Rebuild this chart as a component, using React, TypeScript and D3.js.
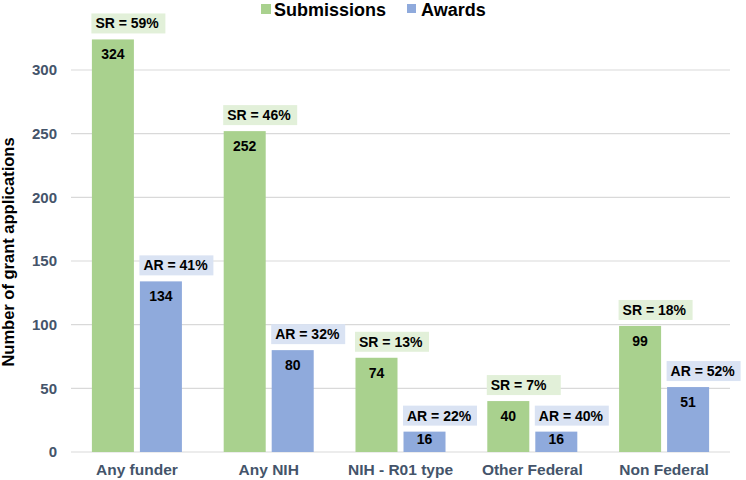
import React from "react";
import { scaleLinear, scaleBand, range } from "d3";

const categories = ["Any funder", "Any NIH", "NIH - R01 type", "Other Federal", "Non Federal"];
const submissions = [324, 252, 74, 40, 99];
const awards = [134, 80, 16, 16, 51];
const submissionRates = ["SR = 59%", "SR = 46%", "SR = 13%", "SR = 7%", "SR = 18%"];
const awardRates = ["AR = 41%", "AR = 32%", "AR = 22%", "AR = 40%", "AR = 52%"];
const series = ["Submissions", "Awards"];
const yTicks = range(0, 301, 50);

const W = 746;
const H = 480;
const font = "'Liberation Sans', Arial, sans-serif";
const green = "#A9D18E";
const blue = "#8FAADC";
const greenBox = "#E2F0D9";
const blueBox = "#DAE3F3";
const slate = "#44546A";

const App = () => {
  const left = 71;
  const right = 730;
  const y0 = 452;

  const yScale = scaleLinear().domain([0, 300]).range([y0, 70]);

  const xScale = scaleBand()
    .domain(categories)
    .range([left, right])
    .paddingInner(0.317)
    .paddingOuter(0.1585);

  const inner = scaleBand()
    .domain(series)
    .range([0, xScale.bandwidth()])
    .paddingInner(0.125);

  const gridlines = yTicks.map((t) => (
    <g key={t}>
      <line x1={left} x2={right} y1={yScale(t)} y2={yScale(t)} stroke="#D9D9D9" strokeWidth={1.2} />
      <text x={57} y={yScale(t)} dy="0.35em" textAnchor="end" fill={slate} fontWeight="bold" fontSize={15}>
        {t}
      </text>
    </g>
  ));

  const groups = categories.map((c, i) => {
    const vals = [submissions[i], awards[i]];
    const rates = [submissionRates[i], awardRates[i]];
    return (
      <g key={c}>
        {series.map((s, j) => {
          const x = (xScale(c) as number) + (inner(s) as number);
          const top = yScale(vals[j]);
          const bw = inner.bandwidth();
          return (
            <g key={s}>
              <rect x={x} y={top} width={bw} height={y0 - top} fill={j === 0 ? green : blue} />
              <text
                x={x + bw / 2}
                y={Math.min(top + 20, y0 - 8)}
                textAnchor="middle"
                fontWeight="bold"
                fontSize={14}
                fill="#000"
              >
                {vals[j]}
              </text>
              <rect x={x - 0.5} y={top - 26} width={74} height={20} fill={j === 0 ? greenBox : blueBox} />
              <text x={x + 3.5} y={top - 11} fontWeight="bold" fontSize={14} fill="#000">
                {rates[j]}
              </text>
            </g>
          );
        })}
        <text
          x={(xScale(c) as number) + xScale.bandwidth() / 2}
          y={475}
          textAnchor="middle"
          fill={slate}
          fontWeight="bold"
          fontSize={15.5}
        >
          {c}
        </text>
      </g>
    );
  });

  return (
    <svg
      width={W}
      height={H}
      viewBox={`0 0 ${W} ${H}`}
      style={{ position: "absolute", left: 0, top: 0, fontFamily: font }}
    >
      <rect width={W} height={H} fill="#fff" />
      {gridlines}
      {groups}
      <text
        transform={`translate(14,252) rotate(-90)`}
        textAnchor="middle"
        fontWeight="bold"
        fontSize={16.5}
        fill="#000"
      >
        Number of grant applications
      </text>
      <g>
        <rect x={261} y={4} width={10} height={10} fill={green} />
        <text x={274} y={16} fontWeight="bold" fontSize={18} fill="#000">
          Submissions
        </text>
        <rect x={407} y={4} width={9} height={9} fill={blue} />
        <text x={421} y={16} fontWeight="bold" fontSize={18} fill="#000">
          Awards
        </text>
      </g>
    </svg>
  );
};

export default App;
